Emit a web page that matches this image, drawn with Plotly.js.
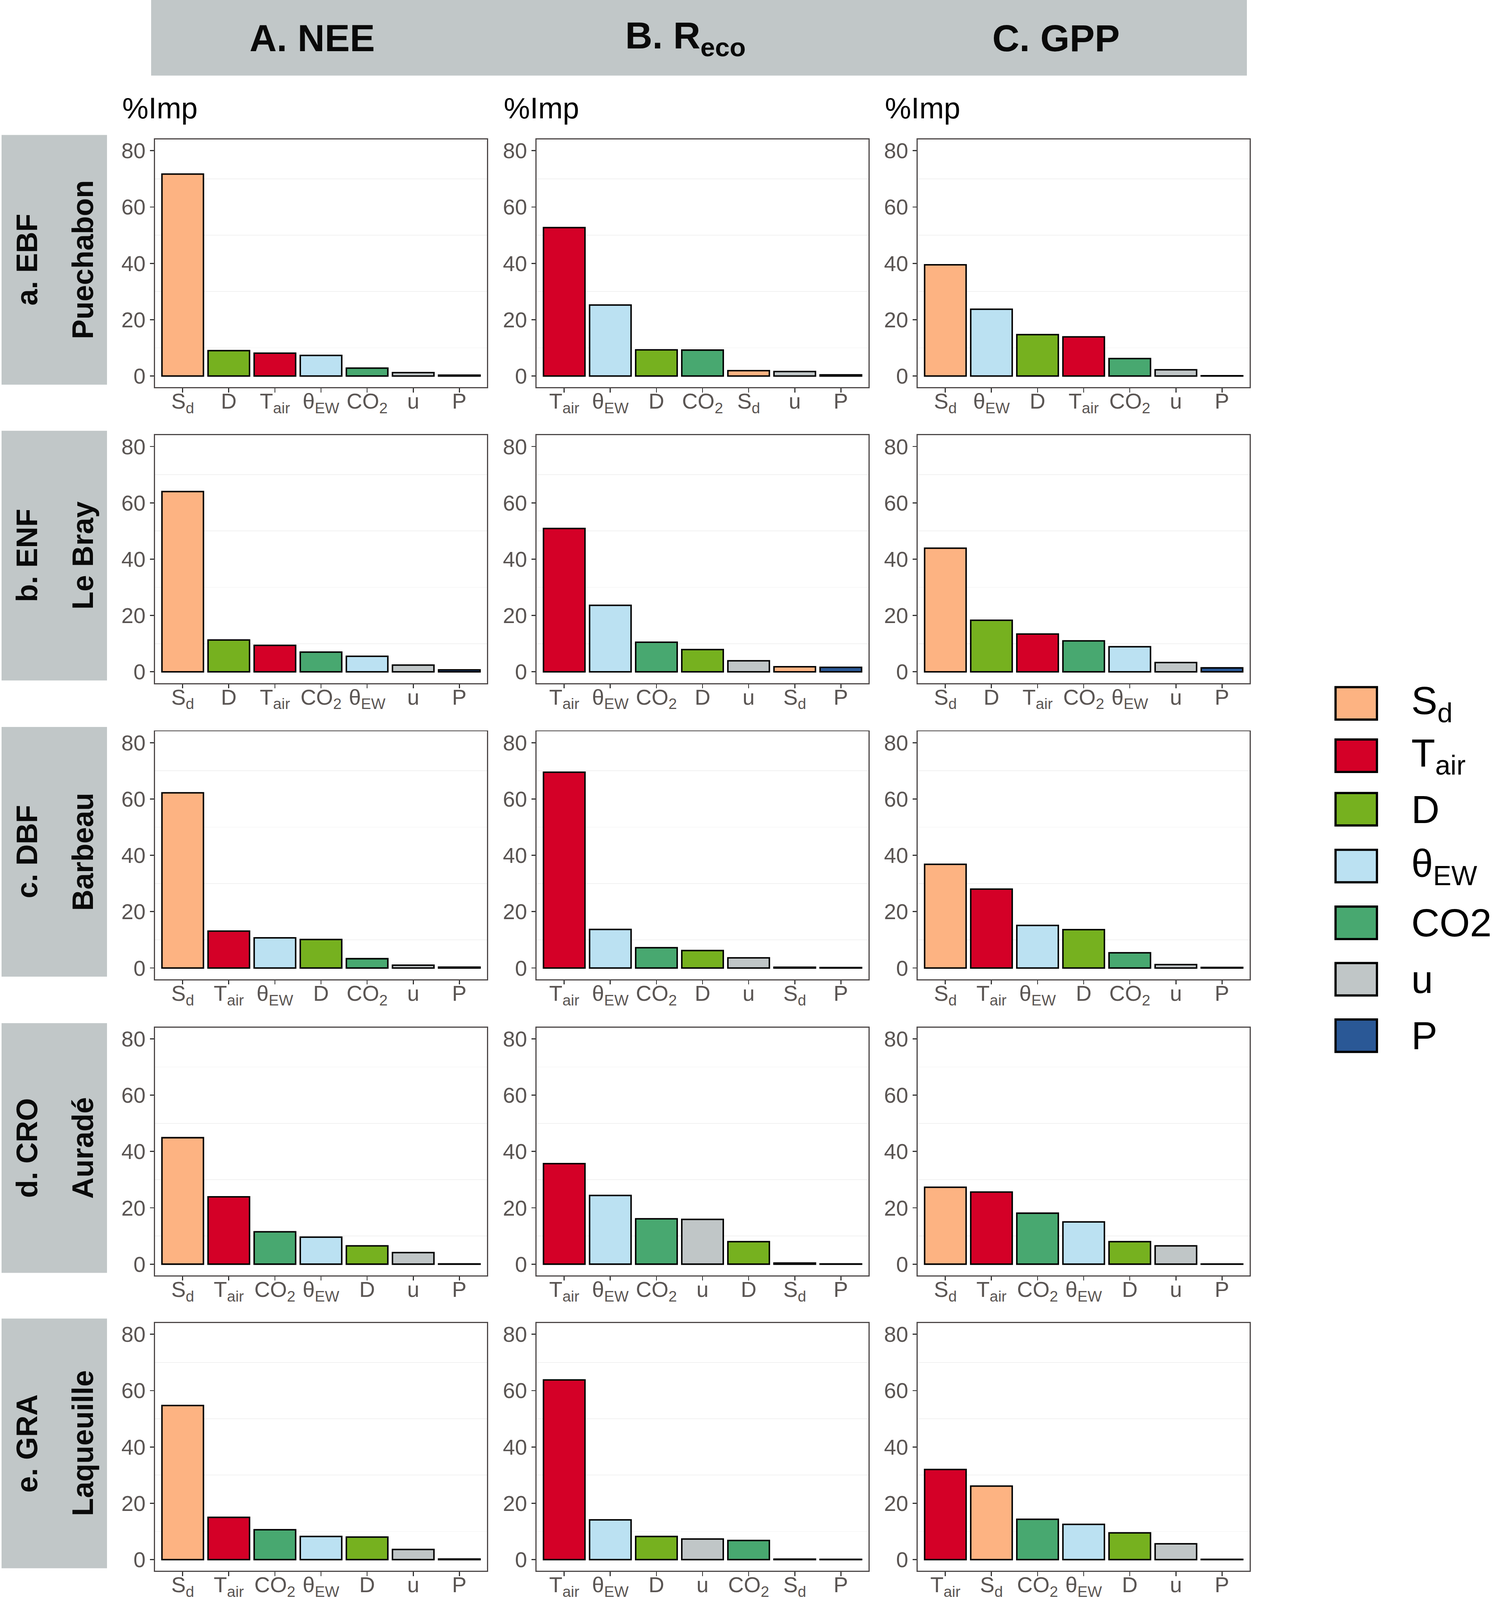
<!DOCTYPE html>
<html>
<head>
<meta charset="utf-8">
<script src="https://cdn.plot.ly/plotly-3.0.1.min.js"></script>
<style>html,body{margin:0;padding:0;background:#fff;overflow:hidden;}#chart{position:absolute;left:0;top:0;}</style>
</head>
<body>
<div id="chart"></div>
<script>
// ---------------- DATA ----------------
const variables = ['Sd', 'Tair', 'D', 'thetaEW', 'CO2', 'u', 'P'];
const tickLabels = ['S<sub>d</sub>', 'T<sub>air</sub>', 'D', 'θ<sub>EW</sub>', 'CO<sub>2</sub>', 'u', 'P'];
const legendLabels = ['S<sub>d</sub>', 'T<sub>air</sub>', 'D', 'θ<sub>EW</sub>', 'CO2', 'u', 'P'];
const fluxTitles = ['A. NEE', 'B. R<sub>eco</sub>', 'C. GPP'];
const ecosystems = ['a. EBF', 'b. ENF', 'c. DBF', 'd. CRO', 'e. GRA'];
const sites = ['Puechabon', 'Le Bray', 'Barbeau', 'Auradé', 'Laqueuille'];
const yTicks = [0, 20, 40, 60, 80];
const yLabel = '%Imp';

// %Imp values, in the order of `variables`: Sd, Tair, D, θEW, CO2, u, P
const neeEBF  = [71.7, 8.1, 9.0, 7.3, 2.8, 1.2, 0.3];
const recoEBF = [1.9, 52.7, 9.3, 25.2, 9.2, 1.6, 0.4];
const gppEBF  = [39.5, 13.9, 14.7, 23.7, 6.2, 2.2, 0.1];

const neeENF  = [64.0, 9.4, 11.3, 5.5, 7.0, 2.4, 0.7];
const recoENF = [1.8, 50.9, 7.9, 23.6, 10.5, 3.9, 1.6];
const gppENF  = [43.9, 13.4, 18.3, 8.9, 11.0, 3.3, 1.4];

const neeDBF  = [62.2, 13.1, 10.1, 10.7, 3.3, 1.0, 0.3];
const recoDBF = [0.25, 69.5, 6.2, 13.7, 7.2, 3.6, 0.15];
const gppDBF  = [36.8, 28.0, 13.6, 15.1, 5.4, 1.2, 0.2];

const neeCRO  = [44.9, 23.9, 6.5, 9.6, 11.5, 4.1, 0.1];
const recoCRO = [0.4, 35.7, 8.0, 24.4, 16.1, 15.9, 0.1];
const gppCRO  = [27.3, 25.6, 8.0, 15.0, 18.1, 6.5, 0.05];

const neeGRA  = [54.7, 15.0, 8.0, 8.2, 10.6, 3.6, 0.2];
const recoGRA = [0.15, 63.8, 8.2, 14.1, 6.8, 7.3, 0.08];
const gppGRA  = [26.1, 32.0, 9.5, 12.5, 14.3, 5.6, 0.1];

const panelValues = [
  [neeEBF, recoEBF, gppEBF],
  [neeENF, recoENF, gppENF],
  [neeDBF, recoDBF, gppDBF],
  [neeCRO, recoCRO, gppCRO],
  [neeGRA, recoGRA, gppGRA]
];

// ---------------- STYLE / LAYOUT ----------------
const fillColors = ['#FDB382', '#D40027', '#76B11F', '#BBE1F2', '#48A870', '#C0C6C7', '#2A5896'];
const W = 3836, H = 4338;               // design size of the reference
const VW = window.innerWidth || W, VH = window.innerHeight || H;
const FW = Math.min(VW, W), FH = Math.min(VH, H);
const S = Math.min(FW / W, FH / H);     // scale for fonts & line widths
const colLeft = [397, 1374, 2350], panelW = 850;
const rowTop = [378, 1180, 1983, 2786, 3587], panelH = 672;
const headerCenters = [799, 1755, 2704];
const stripGray = '#C1C7C8';
const FONT = 'Liberation Sans, Arial, Helvetica, sans-serif';
const legendY = [1907, 2049, 2194, 2348, 2502, 2655, 2808];

const px = x => x / W;
const py = y => 1 - y / H;
const z = v => v * S;

const traces = [];
const layout = {
  width: FW, height: FH,
  margin: {l: 0, r: 0, t: 0, b: 0},
  paper_bgcolor: '#ffffff', plot_bgcolor: '#ffffff',
  showlegend: false,
  font: {family: FONT, color: '#000'},
  shapes: [], annotations: []
};

let k = 0;
for (let r = 0; r < 5; r++) {
  for (let c = 0; c < 3; c++) {
    k++;
    const vals = panelValues[r][c];
    const order = vals.map((v, i) => i).sort((a, b) => vals[b] - vals[a]);
    const cats = order.map(i => variables[i]);
    const xa = 'x' + (k === 1 ? '' : k), ya = 'y' + (k === 1 ? '' : k);
    traces.push({
      type: 'bar',
      x: cats,
      y: order.map(i => vals[i]),
      width: 0.9,
      marker: {color: order.map(i => fillColors[i]), line: {color: '#000', width: z(4)}},
      xaxis: xa, yaxis: ya,
      hoverinfo: 'x+y'
    });
    const l = colLeft[c], t = rowTop[r];
    layout['xaxis' + (k === 1 ? '' : k)] = {
      domain: [px(l), px(l + panelW)], anchor: ya,
      type: 'category', categoryorder: 'array', categoryarray: cats,
      tickmode: 'array', tickvals: cats, ticktext: order.map(i => tickLabels[i]),
      range: [-0.6, 6.6], autorange: false,
      showline: true, mirror: true, linecolor: '#4d4848', linewidth: z(3),
      ticks: 'outside', ticklen: z(11), tickwidth: z(3), tickcolor: '#333',
      ticklabelstandoff: Math.round(z(-27)),
      tickfont: {family: FONT, size: z(59), color: '#5a5553'},
      showgrid: false, zeroline: false, fixedrange: true
    };
    layout['yaxis' + (k === 1 ? '' : k)] = {
      domain: [py(t + panelH), py(t)], anchor: xa,
      range: [-4, 84], autorange: false,
      tickmode: 'array', tickvals: yTicks,
      showline: true, mirror: true, linecolor: '#4d4848', linewidth: z(3),
      ticks: 'outside', ticklen: z(11), tickwidth: z(3), tickcolor: '#333',
      tickfont: {family: FONT, size: z(59), color: '#5a5553'},
      showgrid: false, zeroline: false, fixedrange: true,
      minor: {tickvals: [10, 30, 50, 70], showgrid: true, gridcolor: '#f1f1f1', gridwidth: z(2), ticks: ''}
    };
  }
}

// Header strip
layout.shapes.push({type: 'rect', xref: 'paper', yref: 'paper', x0: px(387), x1: px(3193), y0: py(205), y1: py(0),
  fillcolor: stripGray, line: {width: 0}, layer: 'below'});
fluxTitles.forEach((t, c) => {
  layout.annotations.push({xref: 'paper', yref: 'paper', x: px(headerCenters[c]), y: py(103),
    xanchor: 'center', yanchor: 'middle', showarrow: false, text: '<b>' + t + '</b>',
    font: {family: FONT, size: z(102), color: '#0a0a0a'}});
  layout.annotations.push({xref: 'paper', yref: 'paper', x: px(colLeft[c] - 86), y: py(293),
    xanchor: 'left', yanchor: 'middle', showarrow: false, text: yLabel,
    font: {family: FONT, size: z(80), color: '#000'}});
});

// Row strips
ecosystems.forEach((e, r) => {
  const top = rowTop[r] - 12, bot = rowTop[r] + panelH - 7;
  layout.shapes.push({type: 'rect', xref: 'paper', yref: 'paper', x0: px(4), x1: px(274), y0: py(bot), y1: py(top),
    fillcolor: stripGray, line: {width: 0}, layer: 'below'});
  const cy = (top + bot) / 2;
  layout.annotations.push({xref: 'paper', yref: 'paper', x: px(69), y: py(cy), textangle: -90,
    xanchor: 'center', yanchor: 'middle', showarrow: false, text: '<b>' + e + '</b>',
    font: {family: FONT, size: z(80), color: '#0a0a0a'}});
  layout.annotations.push({xref: 'paper', yref: 'paper', x: px(212), y: py(cy), textangle: -90,
    xanchor: 'center', yanchor: 'middle', showarrow: false, text: '<b>' + sites[r] + '</b>',
    font: {family: FONT, size: z(80), color: '#0a0a0a'}});
});

// Legend
variables.forEach((v, i) => {
  const cy = legendY[i];
  layout.shapes.push({type: 'rect', xref: 'paper', yref: 'paper', x0: px(3420), x1: px(3526), y0: py(cy + 44), y1: py(cy - 44),
    fillcolor: fillColors[i], line: {color: '#000', width: z(6)}});
  layout.annotations.push({xref: 'paper', yref: 'paper', x: px(3612), y: py(cy),
    xanchor: 'left', yanchor: 'middle', showarrow: false, text: legendLabels[i],
    font: {family: FONT, size: z(106), color: '#000'}});
});

document.getElementById('chart').style.width = FW + 'px';
document.getElementById('chart').style.height = FH + 'px';
Plotly.newPlot('chart', traces, layout, {staticPlot: true, displayModeBar: false});
</script>
</body>
</html>
